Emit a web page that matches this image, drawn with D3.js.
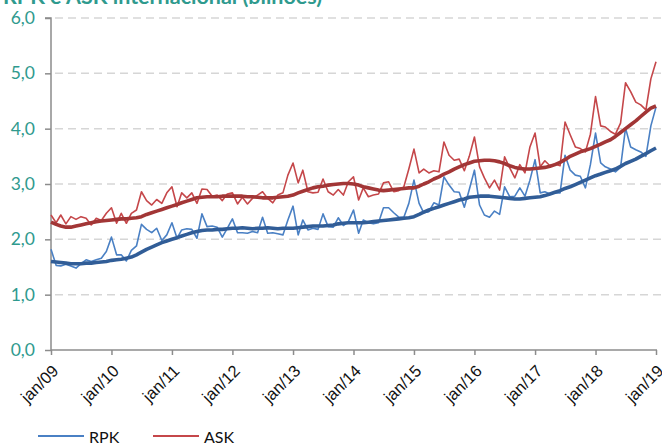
<!DOCTYPE html>
<html><head><meta charset="utf-8">
<script src="https://cdn.jsdelivr.net/npm/d3@7/dist/d3.min.js"></script>
<style>
body{margin:0;background:#fff;}
svg{display:block;font-family:Lato,"Open Sans",sans-serif;}
</style></head>
<body><svg id="c" width="662" height="446"></svg>
<script>
const title = "RPK e ASK internacional (bilhões)";
const startMonth = "2009-01";
const yTicks = [0,1,2,3,4,5,6];
const seriesNames = ["RPK","ASK"];
const rpk = [
1.82,1.53,1.52,1.55,1.52,1.48,1.56,1.63,1.60,1.63,1.66,1.78,
2.04,1.72,1.72,1.61,1.80,1.88,2.27,2.18,2.12,2.20,1.98,2.08,
2.30,2.02,2.17,2.19,2.18,2.02,2.46,2.23,2.24,2.22,2.04,2.20,
2.37,2.12,2.12,2.11,2.14,2.12,2.40,2.11,2.12,2.10,2.08,2.35,
2.60,2.08,2.35,2.17,2.20,2.18,2.46,2.23,2.22,2.39,2.25,2.32,
2.53,2.11,2.35,2.30,2.28,2.30,2.57,2.57,2.48,2.40,2.40,2.65,
3.07,2.65,2.48,2.50,2.66,2.62,3.13,2.98,2.86,2.85,2.58,2.90,
3.25,2.62,2.44,2.40,2.51,2.45,2.95,2.77,2.78,2.93,2.78,3.07,
3.44,2.84,2.86,2.82,2.84,2.84,3.52,3.25,3.16,3.14,2.93,3.35,
3.92,3.38,3.31,3.27,3.22,3.30,4.01,3.67,3.62,3.58,3.50,4.05,
4.39];
const ask = [
2.44,2.30,2.44,2.28,2.41,2.36,2.41,2.38,2.26,2.38,2.34,2.47,
2.57,2.29,2.47,2.29,2.47,2.53,2.86,2.70,2.62,2.72,2.65,2.84,
2.95,2.59,2.84,2.75,2.84,2.65,2.91,2.90,2.78,2.80,2.70,2.82,
2.84,2.64,2.76,2.64,2.74,2.80,2.86,2.74,2.66,2.80,2.84,3.16,
3.38,3.02,3.25,2.86,2.84,2.85,3.09,2.86,2.80,2.90,2.80,3.04,
3.13,2.71,2.93,2.77,2.80,2.82,3.02,3.04,2.86,2.88,2.95,3.27,
3.63,3.20,3.27,3.20,3.24,3.22,3.76,3.52,3.43,3.45,3.24,3.50,
3.85,3.31,3.11,2.93,3.07,2.89,3.49,3.29,3.11,3.35,3.20,3.67,
3.92,3.31,3.42,3.33,3.36,3.33,4.12,3.89,3.67,3.64,3.58,3.90,
4.58,4.05,4.03,3.95,3.90,4.10,4.83,4.67,4.48,4.43,4.34,4.90,
5.21];
const rpkTrend = [
1.60,1.59,1.58,1.57,1.56,1.56,1.56,1.57,1.57,1.58,1.59,1.60,
1.62,1.63,1.64,1.66,1.68,1.72,1.77,1.82,1.86,1.90,1.94,1.97,
2.00,2.03,2.06,2.09,2.12,2.14,2.16,2.17,2.17,2.18,2.18,2.19,
2.20,2.20,2.21,2.20,2.19,2.20,2.20,2.21,2.20,2.19,2.20,2.20,
2.20,2.21,2.22,2.23,2.24,2.24,2.24,2.25,2.26,2.28,2.29,2.30,
2.30,2.30,2.30,2.31,2.32,2.33,2.34,2.35,2.36,2.37,2.38,2.39,
2.41,2.45,2.49,2.53,2.56,2.59,2.62,2.65,2.68,2.71,2.73,2.76,
2.77,2.78,2.78,2.78,2.77,2.76,2.75,2.74,2.73,2.73,2.74,2.75,
2.76,2.77,2.79,2.82,2.85,2.88,2.92,2.95,2.99,3.03,3.07,3.11,
3.15,3.18,3.21,3.24,3.27,3.32,3.37,3.41,3.45,3.50,3.55,3.60,
3.65];
const askTrend = [
2.31,2.27,2.24,2.22,2.22,2.24,2.26,2.28,2.30,2.32,2.33,2.34,
2.35,2.36,2.37,2.37,2.38,2.39,2.41,2.45,2.48,2.51,2.54,2.57,
2.60,2.63,2.66,2.69,2.72,2.75,2.76,2.77,2.77,2.77,2.78,2.78,
2.78,2.78,2.78,2.77,2.77,2.76,2.75,2.75,2.75,2.76,2.77,2.78,
2.80,2.84,2.87,2.90,2.93,2.95,2.96,2.98,2.99,3.00,3.01,3.01,
3.00,2.98,2.95,2.93,2.91,2.89,2.88,2.89,2.90,2.91,2.92,2.93,
2.93,2.96,3.00,3.04,3.09,3.13,3.18,3.22,3.27,3.31,3.35,3.38,
3.41,3.42,3.43,3.43,3.42,3.40,3.37,3.33,3.30,3.28,3.27,3.27,
3.28,3.29,3.30,3.32,3.35,3.39,3.44,3.50,3.54,3.58,3.61,3.64,
3.68,3.72,3.76,3.80,3.86,3.93,4.00,4.07,4.14,4.22,4.30,4.37,
4.41];

const svg = d3.select("#c");
const mL = 51, mR = 656, mT = 18, mB = 350;
const t0 = d3.timeParse("%Y-%m")(startMonth);
const dates = rpk.map((_, i) => d3.timeMonth.offset(t0, i));
const x = d3.scaleTime().domain([dates[0], dates[dates.length-1]]).range([mL, mR]);
const y = d3.scaleLinear().domain([0, 6]).range([mB, mT]);
const teal = "#2f9a8e";

// title
svg.append("text").attr("x", 3).attr("y", 4).attr("fill", teal)
  .attr("font-weight", "bold").attr("font-size", 21.5).text(title);

// grid
svg.append("g").selectAll("line").data(yTicks.filter(d => d > 0)).join("line")
  .attr("x1", mL + 4).attr("x2", 662).attr("y1", d => y(d)).attr("y2", d => y(d))
  .attr("stroke", "#d6d6d6").attr("stroke-width", 1.5).attr("stroke-dasharray", "8,5");

// y axis
const yAxis = svg.append("g").attr("transform", `translate(${mL},0)`)
  .call(d3.axisLeft(y).tickValues(yTicks).tickSize(6).tickPadding(10)
    .tickFormat(d => d3.format(".1f")(d).replace(".", ",")));
yAxis.select(".domain").attr("stroke", "#8c8c8c").attr("stroke-width", 1.5).attr("d", `M-6,${mT}H0V${mB}`);
yAxis.selectAll(".tick line").attr("stroke", "#8c8c8c").attr("stroke-width", 1.5);
yAxis.selectAll("text").attr("fill", teal).attr("font-size", 17.5).attr("font-family", "Lato,sans-serif");

// x axis
const fmt = d3.timeFormat("%y");
const xAxis = svg.append("g").attr("transform", `translate(0,${mB})`)
  .call(d3.axisBottom(x).ticks(d3.timeYear.every(1)).tickSize(5).tickFormat(d => "jan/" + fmt(d)));
xAxis.select(".domain").attr("stroke", "#8c8c8c").attr("stroke-width", 1.5).attr("d", `M${mL},0H${mR+1}`);
xAxis.selectAll(".tick line").attr("stroke", "#8c8c8c").attr("stroke-width", 1.5);
xAxis.selectAll("text").attr("fill", "#111").attr("font-size", 16.5)
  .attr("text-anchor", "end").attr("dy", 0).attr("y", 0)
  .attr("transform", "translate(8,22) rotate(-45)");

// lines
const line = d3.line().x((d, i) => x(dates[i])).y(d => y(d));
const plot = svg.append("g");
plot.append("path").datum(ask).attr("d", line).attr("fill", "none")
  .attr("stroke", "#c5474a").attr("stroke-width", 1.6).attr("stroke-linejoin", "round");
plot.append("path").datum(rpk).attr("d", line).attr("fill", "none")
  .attr("stroke", "#4a80c4").attr("stroke-width", 1.6).attr("stroke-linejoin", "round");
plot.append("path").datum(askTrend).attr("d", line).attr("fill", "none")
  .attr("stroke", "#a23636").attr("stroke-width", 3.6).attr("stroke-linejoin", "round");
plot.append("path").datum(rpkTrend).attr("d", line).attr("fill", "none")
  .attr("stroke", "#315d97").attr("stroke-width", 3.6).attr("stroke-linejoin", "round");

// legend
const legColors = ["#4a80c4", "#c5474a"];
const lg = svg.append("g").selectAll("g").data(seriesNames).join("g")
  .attr("transform", (d, i) => `translate(${38 + i * 115},436)`);
lg.append("line").attr("x1", 0).attr("x2", 46).attr("stroke", (d, i) => legColors[i]).attr("stroke-width", 2);
lg.append("text").attr("x", 51).attr("y", 7).attr("font-size", 16).attr("fill", "#111").text(d => d);
</script></body></html>
